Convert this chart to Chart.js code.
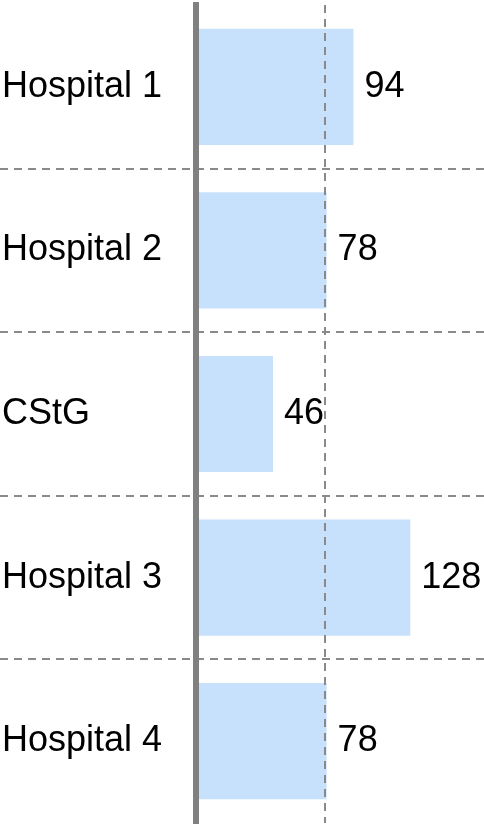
<!DOCTYPE html>
<html>
<head>
<meta charset="utf-8">
<script src="https://cdn.jsdelivr.net/npm/chart.js@4/dist/chart.umd.min.js"></script>
<style>
  html, body { margin: 0; padding: 0; background: #fff; }
  #wrap { width: 484px; height: 826px; }
</style>
</head>
<body>
<div id="wrap"><canvas id="barChart"></canvas></div>
<script>
const categories = ["Hospital 1", "Hospital 2", "CStG", "Hospital 3", "Hospital 4"];
const values = [94, 78, 46, 128, 78];
const referenceValue = 77;

const FONT = "'Liberation Sans', Arial, sans-serif";
const LINE_GREY = "#8a8a8a";

// separators between categories, reference line and value labels
const overlayPlugin = {
  id: "overlay",
  afterDatasetsDraw(chart) {
    const { ctx, chartArea, scales } = chart;
    const y = scales.y;
    const x = scales.x;
    ctx.save();
    ctx.strokeStyle = LINE_GREY;
    ctx.lineWidth = 2;
    ctx.setLineDash([8, 6]);

    for (let i = 1; i < categories.length; i++) {
      const yy = Math.round((y.getPixelForValue(i - 1) + y.getPixelForValue(i)) / 2);
      ctx.beginPath();
      ctx.moveTo(0, yy);
      ctx.lineTo(chart.width, yy);
      ctx.stroke();
    }

    const rx = Math.round(x.getPixelForValue(referenceValue));
    ctx.beginPath();
    ctx.moveTo(rx, chartArea.top);
    ctx.lineTo(rx, chartArea.bottom);
    ctx.stroke();
    ctx.restore();

    ctx.save();
    ctx.fillStyle = "#000";
    ctx.font = `36px ${FONT}`;
    ctx.textAlign = "left";
    ctx.textBaseline = "middle";
    chart.getDatasetMeta(0).data.forEach((bar, i) => {
      ctx.fillText(String(values[i]), bar.x + 11, bar.y);
    });
    ctx.restore();
  },
};

const chart = new Chart(document.getElementById("barChart"), {
  type: "bar",
  data: {
    labels: categories,
    datasets: [
      {
        data: values,
        backgroundColor: "#c7e0fb",
        borderWidth: 0,
        categoryPercentage: 1,
        barPercentage: 0.71,
      },
    ],
  },
  options: {
    indexAxis: "y",
    animation: false,
    responsive: true,
    maintainAspectRatio: false,
    layout: {
      padding: { top: 5, bottom: 3, left: 2, right: 0 },
    },
    scales: {
      x: {
        display: false,
        min: 0,
        max: 172,
      },
      y: {
        afterFit: (scale) => {
          scale.width = 194;
          scale.paddingTop = 0;
          scale.paddingBottom = 0;
        },
        grid: { display: false, drawTicks: false },
        border: { display: true, color: "#808080", width: 6, z: 1 },
        ticks: {
          crossAlign: "far",
          color: "#000",
          padding: 0,
          font: { family: FONT, size: 36 },
        },
      },
    },
    plugins: {
      legend: { display: false },
      tooltip: { enabled: false },
    },
  },
  plugins: [overlayPlugin],
});
</script>
</body>
</html>
